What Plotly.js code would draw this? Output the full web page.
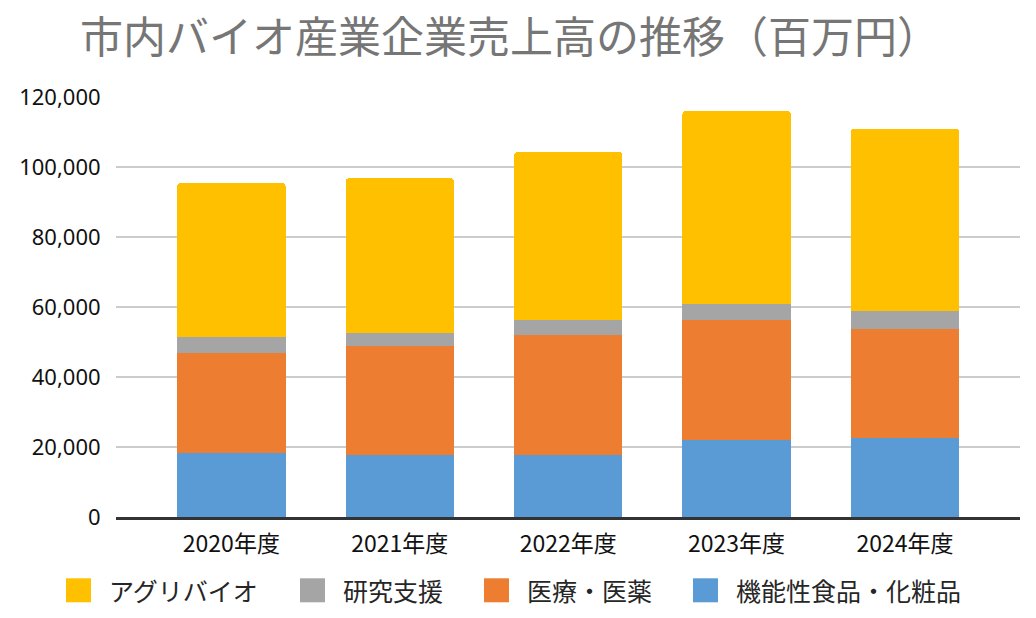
<!DOCTYPE html>
<html>
<head>
<meta charset="utf-8">
<script src="https://cdn.plot.ly/plotly-3.0.1.min.js"></script>
<style>
  html, body { margin: 0; padding: 0; background: #ffffff; }
  #chart { width: 1036px; height: 618px; }
</style>
</head>
<body>
<div id="chart"></div>
<script>
// Fiscal years
const years = ['2020年度', '2021年度', '2022年度', '2023年度', '2024年度'];

// Sales by sector (million yen), stacked bottom to top
const functionalFoodCosmetics = [18200, 17600, 17600, 21900, 22600];
const medicalPharma = [28700, 31300, 34300, 34300, 31100];
const researchSupport = [4600, 3700, 4500, 4600, 5200];
const agriBio = [44000, 44200, 47900, 55200, 52100];

// Series names as shown in the legend (legend order: top of stack first)
const seriesNames = ['機能性食品・化粧品', '医療・医薬', '研究支援', 'アグリバイオ'];
const seriesColors = ['#5B9BD5', '#ED7D31', '#A5A5A5', '#FFC000'];
const seriesValues = [functionalFoodCosmetics, medicalPharma, researchSupport, agriBio];

// Y-axis ticks
const yTickVals = [0, 20000, 40000, 60000, 80000, 100000, 120000];
const yTickText = ['0', '20,000', '40,000', '60,000', '80,000', '100,000', '120,000'];

const FONT = '"Noto Sans", "Noto Sans CJK JP", sans-serif';
const CJK = '"Noto Sans CJK JP", "Noto Sans", sans-serif';

// Plot area in page pixels
const L = 116, R = 1020, T = 96.7, B = 516.7;
const W = R - L, H = B - T;
const px = x => (x - L) / W;
const py = y => (B - y) / H;

const traces = seriesValues.map((vals, i) => ({
  type: 'bar',
  name: seriesNames[i],
  x: years,
  y: vals,
  marker: { color: seriesColors[i] },
  hoverinfo: 'x+y+name',
  showlegend: false
}));

// Legend drawn beneath the axis: large square swatches with labels
const legendOrder = [3, 2, 1, 0];
const swatchLeft = [66, 300, 484, 693];
const legendY = 590;
const shapes = [];
const annotations = [];
legendOrder.forEach((s, k) => {
  const x0 = swatchLeft[k];
  shapes.push({
    type: 'rect', xref: 'paper', yref: 'paper', layer: 'above',
    x0: px(x0), x1: px(x0 + 25), y0: py(legendY + 12), y1: py(legendY - 12),
    fillcolor: seriesColors[s], line: { width: 0 }
  });
  annotations.push({
    xref: 'paper', yref: 'paper', showarrow: false,
    x: px(x0 + 41), y: py(legendY), xanchor: 'left', yanchor: 'middle',
    text: seriesNames[s],
    font: { family: CJK, size: 25, color: '#262626' }
  });
});

const layout = {
  width: 1036,
  height: 618,
  margin: { l: L, r: 1036 - R, t: T, b: 618 - B, pad: 0 },
  paper_bgcolor: '#ffffff',
  plot_bgcolor: '#ffffff',
  barmode: 'stack',
  bargap: 0.356,
  barcornerradius: 4,
  showlegend: false,
  title: {
    text: '市内バイオ産業企業売上高の推移（百万円）',
    font: { family: CJK, size: 43, color: '#767676' },
    xref: 'container', yref: 'container',
    x: 510 / 1036, xanchor: 'center',
    y: 1 - 38 / 618, yanchor: 'middle'
  },
  xaxis: {
    type: 'category',
    range: [-0.685, 4.683],
    showgrid: false,
    zeroline: false,
    showline: true,
    linecolor: '#333333',
    linewidth: 3,
    ticks: 'outside',
    ticklen: 4,
    tickcolor: 'rgba(0,0,0,0)',
    tickfont: { family: CJK, size: 23, color: '#111111' },
    fixedrange: true
  },
  yaxis: {
    range: [0, 120000],
    tickvals: yTickVals,
    ticktext: yTickText,
    showgrid: true,
    gridcolor: '#CCCCCC',
    gridwidth: 2.5,
    zeroline: false,
    showline: false,
    ticks: 'outside',
    ticklen: 10,
    tickcolor: 'rgba(0,0,0,0)',
    tickfont: { family: FONT, size: 22, color: '#111111' },
    fixedrange: true
  },
  shapes: shapes,
  annotations: annotations
};

Plotly.newPlot('chart', traces, layout, { displayModeBar: false, staticPlot: true });
</script>
</body>
</html>
